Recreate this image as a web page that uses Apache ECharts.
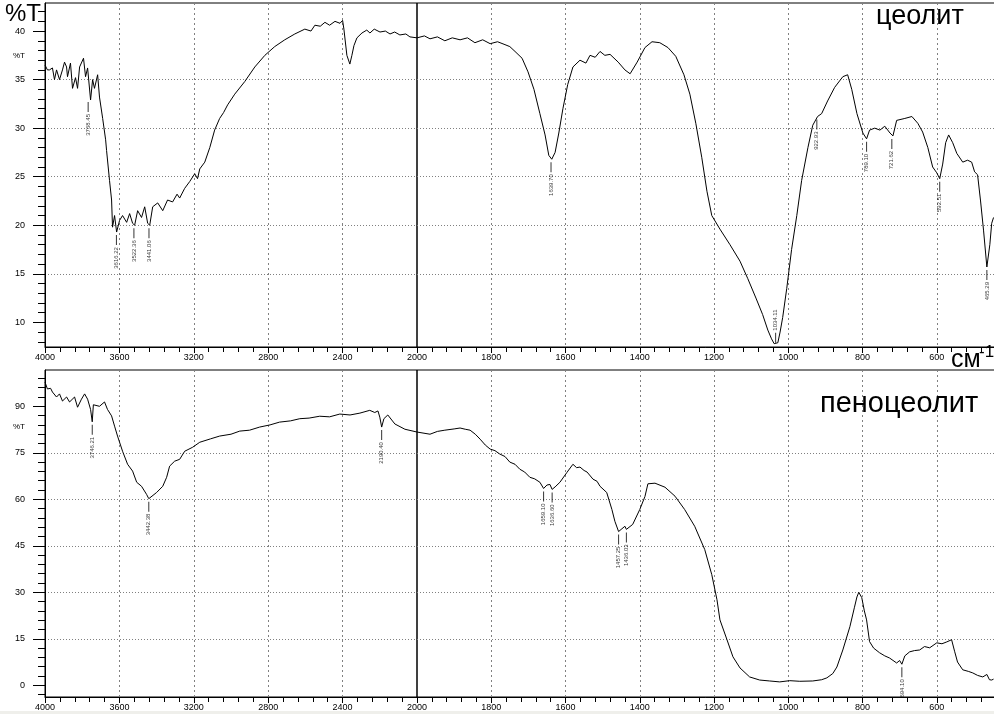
<!DOCTYPE html>
<html><head><meta charset="utf-8">
<script src="https://cdn.jsdelivr.net/npm/echarts@6/dist/echarts.min.js"></script>
<style>html,body{margin:0;padding:0;background:#fff}#c{width:994px;height:714px}</style>
</head><body><div id="c"></div>
<script>
// ---- data (wavenumber cm-1, %T) ----
const zeoliteSpectrum = [
[4000,36.5],[3987,36.0],[3976,36.0],[3960,36.2],[3949,35.0],[3938,36.0],[3922,35.0],[3906,36.0],[3895,36.8],[3884,36.3],[3879,35.3],[3863,36.7],[3852,34.1],[3836,35.2],[3825,34.1],[3814,36.3],[3793,37.2],[3782,35.3],[3771,36.2],[3755,32.9],[3744,35.0],[3734,34.1],[3717,35.5],[3707,33.2],[3690,31.0],[3674,28.8],[3669,27.7],[3653,24.6],[3642,22.6],[3637,19.8],[3626,21.0],[3615,19.3],[3599,20.5],[3583,21.0],[3561,20.3],[3545,21.2],[3529,20.2],[3518,20.0],[3502,21.5],[3481,20.8],[3464,21.9],[3448,20.2],[3437,20.0],[3421,21.9],[3394,22.3],[3367,21.5],[3341,22.6],[3314,22.4],[3290,23.2],[3276,22.8],[3249,23.8],[3222,24.5],[3195,25.3],[3180,24.8],[3168,25.8],[3141,26.5],[3114,28.0],[3088,29.8],[3061,31.0],[3040,31.6],[3018,32.4],[2980,33.5],[2926,34.8],[2872,36.3],[2818,37.5],[2765,38.4],[2711,39.1],[2657,39.7],[2603,40.2],[2570,40.0],[2549,40.6],[2520,40.5],[2495,40.9],[2470,40.6],[2441,41.0],[2414,40.8],[2400,41.1],[2393,40.2],[2377,37.5],[2361,36.6],[2350,37.5],[2339,38.5],[2323,39.3],[2296,39.8],[2270,40.1],[2253,39.8],[2230,40.2],[2199,39.9],[2170,40.0],[2145,39.7],[2120,39.9],[2092,39.6],[2060,39.7],[2038,39.4],[2000,39.3],
[1980,39.5],[1965,39.2],[1945,39.4],[1925,39.0],[1905,39.3],[1884,39.1],[1864,39.3],[1844,38.8],[1823,39.1],[1803,38.7],[1783,38.9],[1763,38.6],[1750,38.4],[1736,37.9],[1717,37.2],[1701,35.8],[1685,34.0],[1669,31.5],[1655,29.3],[1645,27.2],[1637,26.8],[1628,27.5],[1618,29.5],[1607,32.0],[1594,34.5],[1580,36.3],[1561,37.0],[1545,36.7],[1534,37.5],[1520,37.3],[1507,37.9],[1494,37.5],[1480,37.6],[1458,36.8],[1440,36.0],[1426,35.6],[1407,36.8],[1386,38.3],[1367,38.9],[1346,38.8],[1324,38.3],[1303,37.4],[1281,35.5],[1265,33.5],[1249,30.5],[1233,27.0],[1219,23.5],[1206,21.0],[1184,19.6],[1157,18.0],[1130,16.3],[1109,14.5],[1087,12.5],[1069,10.8],[1055,9.2],[1045,8.3],[1038,7.8],[1034,7.6],[1028,7.9],[1022,9.0],[1015,10.5],[1004,13.5],[991,17.5],[977,21.0],[964,24.6],[947,28.0],[934,30.3],[921,31.2],[910,31.5],[894,32.8],[875,34.2],[853,35.3],[840,35.5],[829,34.0],[815,31.5],[799,29.5],[789,28.9],[781,29.8],[767,30.0],[753,29.8],[740,30.2],[726,29.5],[718,29.2],[708,30.8],[686,31.0],[667,31.2],[651,30.5],[638,29.6],[624,28.0],[611,26.0],[600,25.4],[592,24.8],[584,26.3],[576,28.5],[568,29.3],[557,28.5],[546,27.4],[530,26.5],[517,26.7],[506,26.5],[498,25.5],[490,25.2],[482,22.5],[474,19.5],[465,15.7],[457,18.0],[452,20.2],[447,20.8]
];
const foamSpectrum = [
[4000,97.8],[3997,97.2],[3987,95.6],[3970,95.8],[3960,94.6],[3938,93.0],[3922,94.0],[3906,91.7],[3884,93.0],[3868,91.4],[3841,93.0],[3825,89.7],[3804,92.3],[3787,94.0],[3771,92.3],[3755,89.0],[3746,85.0],[3740,90.5],[3734,90.7],[3707,90.0],[3680,91.4],[3664,89.0],[3642,86.9],[3626,83.6],[3610,80.4],[3583,75.5],[3556,71.3],[3529,69.1],[3507,65.5],[3481,64.2],[3454,61.6],[3442,60.2],[3437,60.6],[3400,62.2],[3367,64.2],[3346,67.1],[3330,70.7],[3303,72.3],[3276,72.9],[3249,75.5],[3206,76.8],[3168,78.4],[3110,79.5],[3061,80.4],[3000,81.0],[2953,82.0],[2900,82.3],[2846,83.3],[2790,84.0],[2739,84.9],[2680,85.3],[2630,86.0],[2580,86.2],[2523,86.8],[2470,86.6],[2415,87.5],[2360,87.2],[2307,87.8],[2254,88.7],[2227,88.0],[2210,88.5],[2200,86.5],[2190,83.3],[2178,86.0],[2157,87.2],[2119,84.3],[2065,82.6],[2000,81.7],
[1965,81.0],[1945,81.9],[1925,82.3],[1900,82.7],[1884,83.0],[1870,82.6],[1857,82.3],[1843,81.0],[1830,79.4],[1816,77.5],[1803,76.2],[1790,75.7],[1777,74.6],[1763,73.8],[1750,72.0],[1736,71.3],[1723,69.7],[1710,68.8],[1696,67.1],[1683,66.6],[1669,65.5],[1659,63.5],[1650,64.6],[1642,64.8],[1636,63.2],[1628,64.0],[1615,65.5],[1596,68.7],[1580,71.3],[1570,70.2],[1561,70.4],[1550,69.3],[1542,68.8],[1526,66.5],[1515,65.8],[1507,64.2],[1489,62.2],[1475,56.7],[1467,52.9],[1457,49.6],[1448,50.5],[1440,51.3],[1436,50.3],[1419,51.9],[1400,56.7],[1386,60.9],[1378,65.0],[1359,65.2],[1332,63.9],[1305,61.0],[1279,56.7],[1252,51.3],[1225,43.8],[1206,35.7],[1192,27.6],[1184,21.1],[1165,14.7],[1149,9.2],[1130,5.6],[1104,2.7],[1077,1.7],[1050,1.4],[1023,1.1],[996,1.5],[969,1.3],[934,1.4],[910,1.8],[896,2.4],[880,3.8],[869,5.9],[853,11.4],[834,18.9],[822,25.0],[815,28.5],[810,30.0],[802,28.3],[795,24.0],[789,21.1],[781,14.1],[770,12.0],[754,10.5],[740,9.5],[727,8.8],[708,7.2],[700,8.0],[694,6.8],[686,9.5],[673,10.8],[660,11.2],[646,11.4],[633,12.5],[619,12.1],[600,13.7],[586,13.4],[573,14.0],[560,14.7],[552,11.0],[544,7.5],[530,5.0],[515,4.5],[503,4.0],[490,3.2],[476,2.7],[465,3.5],[458,1.8],[452,1.7],[447,2.0]
];
const zeolitePeaks = [[3768,33.0,'3768.45'],[3616,19.3,'3616.22'],[3522,20.0,'3522.36'],[3441,20.0,'3441.06'],[1639,26.8,'1639.70'],[1034,7.6,'1034.11'],[923,31.2,'922.93'],[789,28.9,'789.10'],[721,29.2,'721.62'],[592,24.8,'592.51'],[465,15.7,'465.29']];
const foamPeaks = [[3746,85.0,'3746.21'],[3442,60.2,'3442.38'],[2190,83.3,'2190.40'],[1659,63.5,'1659.10'],[1636,63.2,'1636.60'],[1457,49.6,'1457.25'],[1436,50.3,'1436.03'],[694,6.8,'694.10']];
const xLabelsHigh = [4000,3600,3200,2800,2400,2000];
const xLabelsLow = [1800,1600,1400,1200,1000,800,600];
const yTicksTop = [10,15,20,25,30,35,40];
const yMinorTop = [8,9,10,11,12,13,14,15,16,17,18,19,20,21,22,23,24,25,26,27,28,29,30,31,32,33,34,35,36,37,38,39,40,41,42];
const yTicksBottom = [0,15,30,45,60,75,90];
const yMinorBottom = [-3,0,3,6,9,12,15,18,21,24,27,30,33,36,39,42,45,48,51,54,57,60,63,66,69,72,75,78,81,84,87,90,93,96,99];
const panelTitles = ['цеолит','пеноцеолит'];

// ---- layout ----
const FONT = 'Liberation Sans';
const TOP = {top:3, height:344, min:7.46, max:42.89};
const BOT = {top:370, height:327, min:-3.77, max:101.71};
const gridCfg = (left, width, p) => ({left, top:p.top, width, height:p.height, show:true,
  borderColor:'#000', borderWidth:1, backgroundColor:'transparent', outerBoundsMode:'none', containLabel:false});
const plain = v => String(v);

function xAxisCfg(gridIndex, min, max, interval, labels) {
  return {type:'value', gridIndex, min, max, interval, inverse:true, position:'bottom',
    axisLine:{show:true, onZero:false, lineStyle:{color:'#000', width:1}},
    axisTick:{show:true, inside:false, length:6, lineStyle:{color:'#000', width:1}},
    minorTick:{show:true, splitNumber:5, length:5, lineStyle:{color:'#000', width:1}},
    axisLabel:{show:true, customValues:labels, formatter:plain, margin:6, fontSize:9, color:'#000', fontFamily:FONT},
    splitLine:{show:true, showMinLine:false, showMaxLine:false, lineStyle:{color:'#808080', width:1, type:[2,3]}},
    minorSplitLine:{show:false}};
}
function yMainCfg(gridIndex, p, ticks, showAll) {
  return {type:'value', gridIndex, min:p.min, max:p.max, position:'left',
    axisLine:{show:showAll, onZero:false, lineStyle:{color:'#000', width:1}},
    axisTick:{show:showAll, customValues:ticks, inside:false, length:12, lineStyle:{color:'#000', width:1}},
    minorTick:{show:false},
    axisLabel:{show:showAll, customValues:ticks, formatter:plain, margin:20, fontSize:9, color:'#000', fontFamily:FONT},
    splitLine:{show:true, showMinLine:false, showMaxLine:false, lineStyle:{color:'#808080', width:1, type:[1,2]}},
    minorSplitLine:{show:false}};
}
function yMinorCfg(gridIndex, p, ticks) {
  return {type:'value', gridIndex, min:p.min, max:p.max, position:'left',
    axisLine:{show:false, onZero:false},
    axisTick:{show:true, customValues:ticks, inside:false, length:7, lineStyle:{color:'#000', width:1}},
    minorTick:{show:false}, axisLabel:{show:false}, splitLine:{show:false}, minorSplitLine:{show:false}};
}
const lineSeries = (data, xi, yi) => ({type:'line', xAxisIndex:xi, yAxisIndex:yi, data, symbol:'none',
  lineStyle:{color:'#000', width:1}, silent:true, animation:false, z:3});
// peak markers: tick line + rotated label under the band; flipped above when the band is too close to the axis
const peakSeries = (peaks, xi, yi, p) => ({type:'scatter', xAxisIndex:xi, yAxisIndex:yi,
  data: peaks.map(q => {
    const up = q[1] - p.min < 3;
    return {value:[q[0], q[1]], name:q[2],
      symbolOffset: up ? [0,-8] : [0,8],
      label: up ? {position:'top', align:'left'} : {position:'bottom', align:'right'}};
  }),
  symbol:'rect', symbolSize:[1,10], itemStyle:{color:'#000'}, silent:true, z:4,
  label:{show:true, distance:2, rotate:90, verticalAlign:'middle',
    formatter: q => q.name, fontSize:6, color:'#000', fontFamily:FONT}});
const hi = a => a.filter(q => q[0] >= 2000);
const lo = a => a.filter(q => q[0] <= 2000);

const txt = (text, x, y, size, extra) => ({type:'text', x, y, silent:true, z:10,
  style:Object.assign({text, fontSize:size, fontFamily:FONT, fill:'#000', verticalAlign:'middle', align:'left'}, extra||{})});

const option = {
  animation:false,
  backgroundColor:'#fff',
  textStyle:{fontFamily:FONT},
  grid:[gridCfg(45,372,TOP), gridCfg(417,594,TOP), gridCfg(45,372,BOT), gridCfg(417,594,BOT)],
  xAxis:[xAxisCfg(0,2000,4000,400,xLabelsHigh), xAxisCfg(1,400,2000,200,xLabelsLow),
         xAxisCfg(2,2000,4000,400,xLabelsHigh), xAxisCfg(3,400,2000,200,xLabelsLow)],
  yAxis:[yMainCfg(0,TOP,yTicksTop,true), yMinorCfg(0,TOP,yMinorTop), yMainCfg(1,TOP,yTicksTop,false),
         yMainCfg(2,BOT,yTicksBottom,true), yMinorCfg(2,BOT,yMinorBottom), yMainCfg(3,BOT,yTicksBottom,false)],
  series:[
    lineSeries(hi(zeoliteSpectrum),0,0), lineSeries(lo(zeoliteSpectrum),1,2),
    lineSeries(hi(foamSpectrum),2,3), lineSeries(lo(foamSpectrum),3,5),
    peakSeries(hi(zeolitePeaks),0,0,TOP), peakSeries(lo(zeolitePeaks),1,2,TOP),
    peakSeries(hi(foamPeaks),2,3,BOT), peakSeries(lo(foamPeaks),3,5,BOT)
  ],
  graphic:[
    {type:'rect', silent:true, z:-1, shape:{x:0, y:711, width:994, height:3}, style:{fill:'#efefeb'}},
    txt('%T', 5, 14, 24),
    txt('%T', 13, 56, 8),
    txt('%T', 13, 427, 8),
    txt(panelTitles[0], 876, 17, 27),
    txt(panelTitles[1], 820, 404, 29),
    txt('см', 951, 360, 25),
    txt('-1', 979, 352, 17)
  ]
};
echarts.init(document.getElementById('c'), null, {renderer:'canvas'}).setOption(option);
</script>
</body></html>
